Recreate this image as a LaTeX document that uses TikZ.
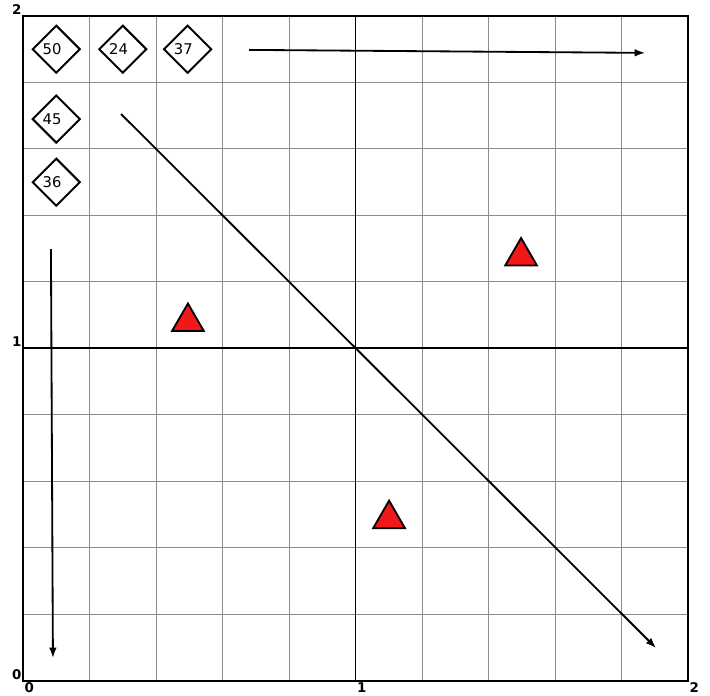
\documentclass[tikz,border=0pt]{standalone}
\usepackage{fontspec}
\setmainfont{DejaVu Sans}
\usetikzlibrary{arrows.meta,shapes.geometric}
\definecolor{markred}{RGB}{240,24,24}

\begin{document}
\begin{tikzpicture}[x=8.3125cm, y=8.3125cm, every node/.style={font=\fontsize{10.5}{12}\selectfont}, fine/.style={draw=black!45, line width=0.7pt}, axis/.style={line width=1.4pt}, dm/.style={draw, diamond, line width=1.4pt, inner sep=0pt, minimum width=1.2cm, minimum height=1.2cm}, tri/.style={draw, fill=markred, regular polygon, regular polygon sides=3, line width=1.3pt, inner sep=0pt, minimum size=0.92cm}, tick/.style={font=\bfseries\fontsize{9.5}{11}\selectfont, inner sep=1pt}, arr/.style={-{Latex[length=2.6mm,width=1.9mm]}, line width=1.3pt}]
\useasboundingbox (-0.0692,-0.0451) rectangle (2.0662,2.0481);
% grid and frame
\draw[fine] (0,0) grid[step=0.2] (2,2);
\draw[axis] (1,0) -- (1,2); \draw[axis] (0,1) -- (2,1);
\draw[axis] (0,0) rectangle (2,2);
% tick labels
\node[tick, anchor=south east] (yl0) at (0,0) {0};
\node[tick, anchor=south east] (yl1) at (0,1) {1};
\node[tick, anchor=south east] (yl2) at (0,2) {2};
\node[tick, anchor=north west] (xl0) at (0,0) {0};
\node[tick, anchor=north west] (xl1) at (1,0) {1};
\node[tick, anchor=north west] (xl2) at (2,0) {2};
% diamonds
\node[dm] (d50) at (0.1,1.9) {\hspace*{-6pt}\raisebox{-2pt}{50}};
\node[dm] (d24) at (0.3,1.9) {\hspace*{-6pt}\raisebox{-2pt}{24}};
\node[dm] (d37) at (0.495,1.9) {\hspace*{-6pt}\raisebox{-2pt}{37}};
\node[dm] (d45) at (0.1,1.69) {\hspace*{-6pt}\raisebox{-2pt}{45}};
\node[dm] (d36) at (0.1,1.5) {\hspace*{-6pt}\raisebox{-2pt}{36}};
% triangles
\node[tri] (t1) at (0.496,1.08) {};
\node[tri] (t2) at (1.498,1.277) {};
\node[tri] (t3) at (1.101,0.487) {};
% arrows
\coordinate (hs) at (0.68,1.898); \coordinate (he) at (1.871,1.889);
\coordinate (ds) at (0.295,1.705); \coordinate (de) at (1.904,0.099);
\coordinate (vs) at (0.084,1.299); \coordinate (ve) at (0.09,0.069);
\draw[arr] (hs) -- (he); \draw[arr] (ds) -- (de); \draw[arr] (vs) -- (ve);
\end{tikzpicture}
\end{document}
